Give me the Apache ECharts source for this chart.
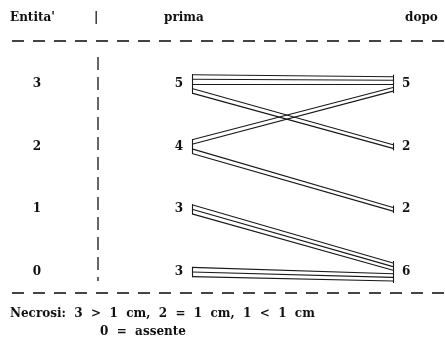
<!DOCTYPE html>
<html>
<head>
<meta charset="utf-8">
<script src="https://cdn.jsdelivr.net/npm/echarts@6/dist/echarts.min.js"></script>
<style>
html, body { margin: 0; padding: 0; background: #fff; }
#chart { width: 445px; height: 343px; }
</style>
</head>
<body>
<div id="chart"></div>
<script>
// livelli di entita' (dall'alto)
const levels = [3, 2, 1, 0]
const primaCounts = [5, 4, 3, 3]
const dopoCounts = [5, 2, 2, 6]
// [da, a, numero pazienti]
const transitions = [
  [3, 3, 3],
  [3, 2, 2],
  [2, 3, 2],
  [2, 1, 2],
  [1, 0, 3],
  [0, 0, 3]
]
const headers = ["Entita'", '|', 'prima', 'dopo']
const noteLines = ['Necrosi:  3  >  1  cm,  2  =  1  cm,  1  <  1  cm', '0  =  assente']

// impaginazione
const LEVEL_X = 37
const PRIMA_X = 192
const DOPO_X = 393
const Y0 = 272        // pixel del livello 0
const PX = 62.7       // pixel per livello
const SLOT_PRIMA = 4.6 / PX
const SLOT_DOPO = 3.6 / PX
const font = { fontFamily: 'DejaVu Serif', fontWeight: 'bold', fontSize: 12, color: '#111' }

const chart = echarts.init(document.getElementById('chart'))

// un tratto per paziente
const patients = []
transitions.forEach(([from, to, n]) => {
  for (let k = 0; k < n; k++) patients.push({ from, to, k })
})
const slotOf = (list, key, other, p) => {
  const group = list.filter(q => q[key] === p[key])
    .sort((a, b) => (b[other] - a[other]) || (a.k - b.k))
  return { i: group.indexOf(p), n: group.length }
}
const lineData = patients.map(p => {
  const s1 = slotOf(patients, 'from', 'to', p)
  const s2 = slotOf(patients, 'to', 'from', p)
  return {
    coords: [
      [PRIMA_X, p.from + ((s1.n - 1) / 2 - s1.i) * SLOT_PRIMA],
      [DOPO_X, p.to + ((s2.n - 1) / 2 - s2.i) * SLOT_DOPO]
    ]
  }
})

// parentesi verticali
const brackets = []
levels.forEach((lv, i) => {
  const a = (primaCounts[i] - 1) / 2 * SLOT_PRIMA + 0.5 / PX
  brackets.push({ coords: [[PRIMA_X, lv + a], [PRIMA_X, lv - a]] })
  const b = (dopoCounts[i] - 1) / 2 * SLOT_DOPO + 2 / PX
  brackets.push({ coords: [[DOPO_X, lv + b], [DOPO_X, lv - b]] })
})

const dashLine = (y) => ({
  type: 'line',
  shape: { x1: 12, y1: y, x2: 445, y2: y },
  style: { stroke: '#444', lineWidth: 2, lineDash: [12, 9] }
})
const text = (str, x, y) => ({
  type: 'text', x, y,
  style: {
    text: str, fill: font.color, font: `bold 12px "DejaVu Serif"`,
    textVerticalAlign: 'middle'
  }
})
const labelSeries = (data, position) => ({
  type: 'scatter',
  silent: true,
  symbolSize: 0,
  itemStyle: { color: '#111', opacity: 1 },
  data,
  label: {
    show: true, position, distance: 9, opacity: 1,
    formatter: p => p.value[2], ...font
  }
})

const option = {
  animation: false,
  grid: { left: 0, right: 0, top: 0, bottom: 0 },
  xAxis: { type: 'value', min: 0, max: 445, show: false },
  yAxis: { type: 'value', min: (Y0 - 343) / PX, max: Y0 / PX, show: false },
  graphic: [
    text(headers[0], 10, 18),
    text(headers[1], 94, 18),
    text(headers[2], 164, 18),
    text(headers[3], 405, 18),
    dashLine(41),
    dashLine(293),
    {
      type: 'line',
      shape: { x1: 98, y1: 57, x2: 98, y2: 281 },
      style: { stroke: '#333', lineWidth: 1.5, lineDash: [13, 7] }
    },
    text(noteLines[0], 10, 314),
    text(noteLines[1], 100, 332)
  ],
  series: [
    {
      type: 'lines',
      coordinateSystem: 'cartesian2d',
      silent: true,
      data: lineData.concat(brackets),
      lineStyle: { color: '#1a1a1a', width: 1.1, opacity: 1 }
    },
    labelSeries(levels.map(lv => [LEVEL_X, lv, lv]), 'inside'),
    labelSeries(levels.map((lv, i) => [PRIMA_X, lv, primaCounts[i]]), 'left'),
    labelSeries(levels.map((lv, i) => [DOPO_X, lv, dopoCounts[i]]), 'right')
  ]
}

chart.setOption(option)
</script>
</body>
</html>
